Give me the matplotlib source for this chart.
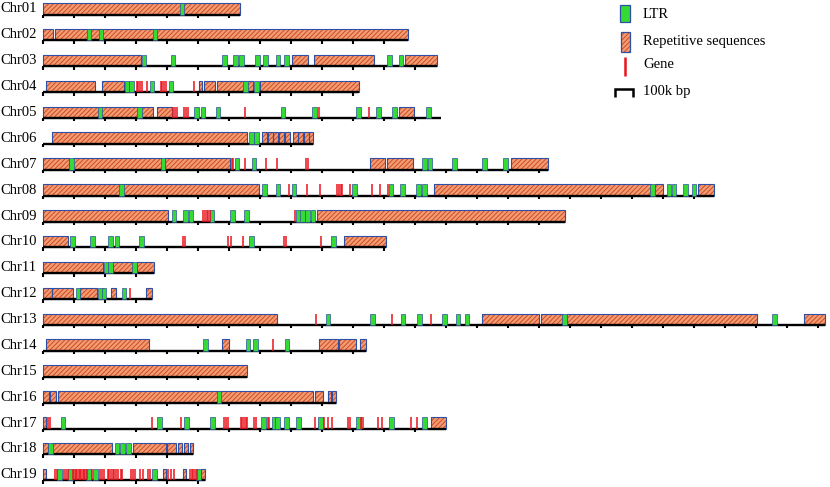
import matplotlib
matplotlib.use("Agg")
import matplotlib.pyplot as plt
from matplotlib.patches import Rectangle

plt.rcParams['font.family'] = ['Liberation Serif', 'DejaVu Serif']
plt.rcParams['hatch.linewidth'] = 0.7

# chromosome names and lengths (kbp)
chrom_names = ["Chr%02d" % i for i in range(1, 20)]
chrom_len = [635, 1177, 1270, 1019, 1283, 872, 1630, 2166, 1684, 1106,
             359, 351, 2523, 1041, 657, 945, 1299, 485, 524]

# repetitive sequence blocks (start, end) in kbp
repeats = [
    [(0, 635)],
    [(0, 32), (39, 1177)],
    [(0, 315), (804, 856), (874, 1068), (1168, 1270)],
    [(9, 168), (189, 261), (503, 514), (520, 555), (560, 678), (700, 1019)],
    [(1, 184), (184, 356), (367, 415), (1148, 1198)],
    [(28, 657), (705, 722), (725, 741), (743, 759), (762, 778), (781, 798),
     (805, 822), (824, 840), (842, 858), (859, 872)],
    [(0, 84), (98, 383), (394, 603), (1055, 1103), (1109, 1195), (1509, 1630)],
    [(1, 698), (1262, 1960), (1973, 2001), (2114, 2166)],
    [(1, 404), (883, 1684)],
    [(1, 82), (972, 1106)],
    [(1, 195), (227, 291), (302, 359)],
    [(1, 28), (30, 98), (119, 175), (218, 235), (331, 351)],
    [(1, 756), (1415, 1600), (1606, 1676), (1689, 2304), (2455, 2523)],
    [(9, 343), (576, 601), (891, 951), (956, 1010), (1023, 1041)],
    [(1, 657)],
    [(1, 19), (23, 42), (49, 870), (878, 904), (920, 929), (933, 945)],
    [(1, 10), (1251, 1299)],
    [(1, 15), (30, 224), (291, 396), (399, 428), (436, 449), (454, 467), (474, 485)],
    [(1, 10), (386, 397), (451, 461), (510, 524)],
]

# LTR positions (centre, kbp)
ltrs = [
    [448],
    [148, 187, 361],
    [326, 419, 586, 620, 640, 691, 717, 758, 786, 1117, 1155],
    [271, 285, 351, 413, 653, 689],
    [184, 312, 495, 516, 565, 774, 876, 1018, 1083, 1133, 1244],
    [672, 688],
    [91, 387, 626, 680, 1230, 1249, 1327, 1424, 1491],
    [253, 715, 758, 810, 1004, 1123, 1160, 1211, 1231, 1967, 2019, 2035, 2072, 2100],
    [422, 459, 477, 545, 612, 656, 824, 838, 854, 871],
    [96, 160, 217, 239, 318, 673, 938],
    [203, 217, 296],
    [113, 185, 197, 261],
    [919, 1062, 1161, 1214, 1295, 1339, 1368, 1683, 2359],
    [524, 661, 685, 787],
    [],
    [568],
    [64, 376, 462, 546, 712, 745, 757, 785, 825, 896, 1017, 1124, 1231],
    [24, 239, 257, 276],
    [53, 88, 147, 169, 360, 502],
]

# gene positions (kbp)
genes = [
    [],
    [],
    [],
    [302, 307, 313, 318, 335, 380, 385, 390, 396, 488],
    [418, 425, 431, 456, 461, 467, 652, 890, 1052],
    [],
    [609, 614, 652, 718, 754, 847, 854],
    [795, 853, 894, 947, 954, 960, 965, 990, 1062, 1087, 1112],
    [517, 523, 528, 533, 539, 814],
    [451, 458, 598, 605, 644, 776, 783, 896],
    [],
    [281],
    [881, 1127, 1252],
    [741],
    [],
    [],
    [15, 23, 353, 445, 584, 590, 597, 638, 643, 648, 654, 658, 682, 688, 725, 730,
     876, 906, 920, 933, 983, 990, 1026, 1033, 1082, 1093, 1187, 1205],
    [],
    [39, 44, 68, 74, 81, 98, 102, 106, 111, 115, 119, 123, 128, 132, 137, 141,
     157, 184, 190, 197, 209, 214, 219, 225, 230, 235, 243, 251, 256, 283, 289,
     297, 313, 322, 338, 345, 404, 413, 424, 474, 480, 485, 490, 496],
]

legend_labels = ["LTR", "Repetitive sequences", "Gene", "100k bp"]

KB_PER_PX = 100 / 31.0
X0 = 43          # pixel where every chromosome starts
ROW0 = 14.5      # baseline of first row (px)
ROW_STEP = 25.88
BOX_H = 11.5
LTR_W = 4.6 * KB_PER_PX

REP_FACE = '#F29C74'
REP_HATCH = '#CF4A22'
EDGE_BLUE = '#2E4FA6'
LTR_GREEN = '#35DA35'
GENE_RED = '#E8141C'

fig = plt.figure(figsize=(8.3, 4.87), dpi=100)
ax = fig.add_axes([0, 0, 1, 1])
ax.set_xlim(-X0 * KB_PER_PX, (830 - X0) * KB_PER_PX)
ax.set_ylim(487, 0)
ax.axis('off')

for i, name in enumerate(chrom_names):
    base = ROW0 + ROW_STEP * i
    top = base - BOX_H
    L = chrom_len[i]

    ax.text(-X0 * KB_PER_PX, base - 5.5, name, fontsize=10.5,
            ha='left', va='center')

    for s, e in repeats[i]:
        ax.add_patch(Rectangle((s, top), e - s, BOX_H, facecolor=REP_FACE,
                               edgecolor=REP_HATCH, hatch='///////', lw=0, zorder=2))
        ax.add_patch(Rectangle((s, top), e - s, BOX_H, facecolor='none',
                               edgecolor=EDGE_BLUE, lw=0.8, zorder=3))

    # baseline and 100k ticks
    ax.plot([0, L], [base, base], color='black', lw=1.7,
            solid_capstyle='butt', zorder=4)
    for t in range(0, int(L) + 1, 100):
        ax.plot([t, t], [base, base + 3.4], color='black', lw=1.5,
                solid_capstyle='butt', zorder=4)

    for c in ltrs[i]:
        ax.add_patch(Rectangle((c - LTR_W / 2, top), LTR_W, BOX_H,
                               facecolor=LTR_GREEN, edgecolor=EDGE_BLUE,
                               lw=0.5, zorder=5))

    for g in genes[i]:
        ax.plot([g, g], [top, base], color=GENE_RED, lw=1.1,
                solid_capstyle='butt', zorder=6)

# legend in pixel coordinates
lax = fig.add_axes([0, 0, 1, 1])
lax.set_xlim(0, 830)
lax.set_ylim(487, 0)
lax.axis('off')

lax.add_patch(Rectangle((620, 5), 10, 17, facecolor=LTR_GREEN,
                        edgecolor=EDGE_BLUE, lw=0.9))
lax.add_patch(Rectangle((620.5, 32), 9.5, 20, facecolor=REP_FACE,
                        edgecolor=REP_HATCH, hatch='///////', lw=0))
lax.add_patch(Rectangle((620.5, 32), 9.5, 20, facecolor='none',
                        edgecolor=EDGE_BLUE, lw=0.9))
lax.plot([624.5, 624.5], [57, 76], color=GENE_RED, lw=1.8, solid_capstyle='butt')
lax.plot([615, 615, 633, 633], [97, 89, 89, 97], color='black', lw=1.8,
         solid_capstyle='butt', solid_joinstyle='miter')

for y, lab in zip([14, 42, 65, 91], legend_labels):
    lax.text(643, y, lab, fontsize=10.5, ha='left', va='center')

fig.savefig('out.png', dpi=100)
